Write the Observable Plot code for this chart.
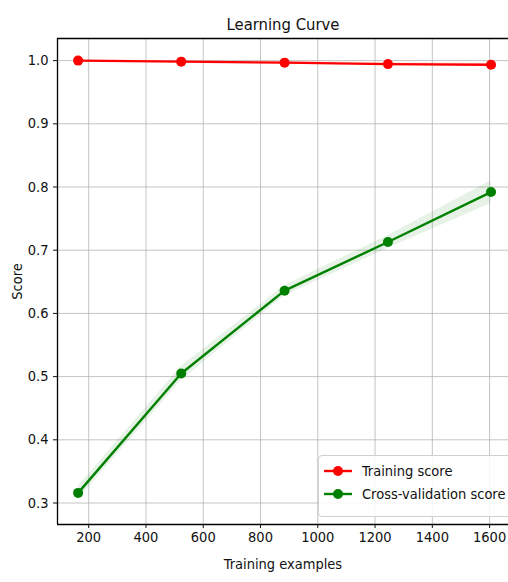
<!DOCTYPE html>
<html>
<head>
<meta charset="utf-8">
<script src="https://cdn.jsdelivr.net/npm/d3@7"></script>
<script src="https://cdn.jsdelivr.net/npm/@observablehq/plot@0.6"></script>
<style>
  html, body { margin: 0; padding: 0; background: #fff; overflow: hidden; }
  #wrap { position: relative; width: 508px; height: 582px; }
  .lg { position: absolute; left: 318px; top: 455px; width: 200px; height: 60px;
        border: 1px solid #d0d0d0; border-radius: 4px; background: rgba(255,255,255,0.85);
        font-family: "DejaVu Sans Condensed", "DejaVu Sans", sans-serif; font-stretch: condensed; font-size: 14.5px; color: #111; }
  .lg .row { position: absolute; left: 4px; height: 20px; display: flex; align-items: center; }
  .lg svg { margin-right: 9px; }
</style>
</head>
<body>
<div id="wrap"></div>
<script>
const trainSizes = [163, 523, 884, 1245, 1605];
const trainMean = [1.0, 0.9984, 0.9968, 0.9945, 0.9935];
const trainStd = [0.0008, 0.0015, 0.0020, 0.0022, 0.0025];
const cvMean = [0.316, 0.505, 0.636, 0.713, 0.792];
const cvStd = [0.010, 0.011, 0.008, 0.010, 0.018];
const xTicks = [200, 400, 600, 800, 1000, 1200, 1400, 1600];
const yTicks = [0.3, 0.4, 0.5, 0.6, 0.7, 0.8, 0.9, 1.0];
const xDomain = [91, 1666];
const yDomain = [0.266, 1.035];
const seriesNames = ["Training score", "Cross-validation score"];
const seriesColors = ["#ff0000", "#008000"];

const train = trainSizes.map((x, i) => ({x, y: trainMean[i], lo: trainMean[i] - trainStd[i], hi: trainMean[i] + trainStd[i]}));
const cv = trainSizes.map((x, i) => ({x, y: cvMean[i], lo: cvMean[i] - cvStd[i], hi: cvMean[i] + cvStd[i]}));

const chart = Plot.plot({
  width: 508,
  height: 582,
  marginLeft: 57,
  marginRight: 0,
  marginTop: 38,
  marginBottom: 58,
  style: {fontFamily: "'DejaVu Sans Condensed', 'DejaVu Sans', sans-serif", fontSize: "14.5px", color: "#111", background: "#fff"},
  x: {domain: xDomain},
  y: {domain: yDomain},
  marks: [
    Plot.gridX(xTicks, {stroke: "#b0b0b0", strokeOpacity: 0.75, strokeWidth: 1}),
    Plot.gridY(yTicks, {stroke: "#b0b0b0", strokeOpacity: 0.75, strokeWidth: 1}),
    Plot.areaY(train, {x: "x", y1: "lo", y2: "hi", fill: seriesColors[0], fillOpacity: 0.1}),
    Plot.areaY(cv, {x: "x", y1: "lo", y2: "hi", fill: seriesColors[1], fillOpacity: 0.1}),
    Plot.line(train, {x: "x", y: "y", stroke: seriesColors[0], strokeWidth: 2.4}),
    Plot.line(cv, {x: "x", y: "y", stroke: seriesColors[1], strokeWidth: 2.4}),
    Plot.dot(train, {x: "x", y: "y", fill: seriesColors[0], r: 5}),
    Plot.dot(cv, {x: "x", y: "y", fill: seriesColors[1], r: 5}),
    Plot.ruleX([xDomain[0]], {stroke: "#000", strokeWidth: 1.3}),
    Plot.ruleY([yDomain[0]], {stroke: "#000", strokeWidth: 1.3}),
    Plot.ruleY([yDomain[1]], {stroke: "#000", strokeWidth: 1.3}),
    Plot.axisX({ticks: xTicks, tickSize: 4, tickPadding: 3, tickFormat: d => String(d), label: "Training examples", labelAnchor: "center", labelArrow: "none", labelOffset: 44, fontSize: 14.5}),
    Plot.axisY({ticks: yTicks, tickSize: 4, tickPadding: 5, tickFormat: d => d.toFixed(1), label: "Score", labelAnchor: "center", labelArrow: "none", labelOffset: 46, fontSize: 14.5}),
    Plot.text(["Learning Curve"], {frameAnchor: "top", dy: -20, fontSize: 16.5, fill: "#111"})
  ]
});
const wrap = document.getElementById("wrap");
wrap.appendChild(chart);

const lg = document.createElement("div");
lg.className = "lg";
seriesNames.forEach((name, i) => {
  const row = document.createElement("div");
  row.className = "row";
  row.style.top = (5 + i * 23) + "px";
  row.innerHTML = `<svg width="30" height="12"><line x1="1" y1="6" x2="29" y2="6" stroke="${seriesColors[i]}" stroke-width="2.4"/><circle cx="15" cy="6" r="5" fill="${seriesColors[i]}"/></svg><span>${name}</span>`;
  lg.appendChild(row);
});
wrap.appendChild(lg);
</script>
</body>
</html>
